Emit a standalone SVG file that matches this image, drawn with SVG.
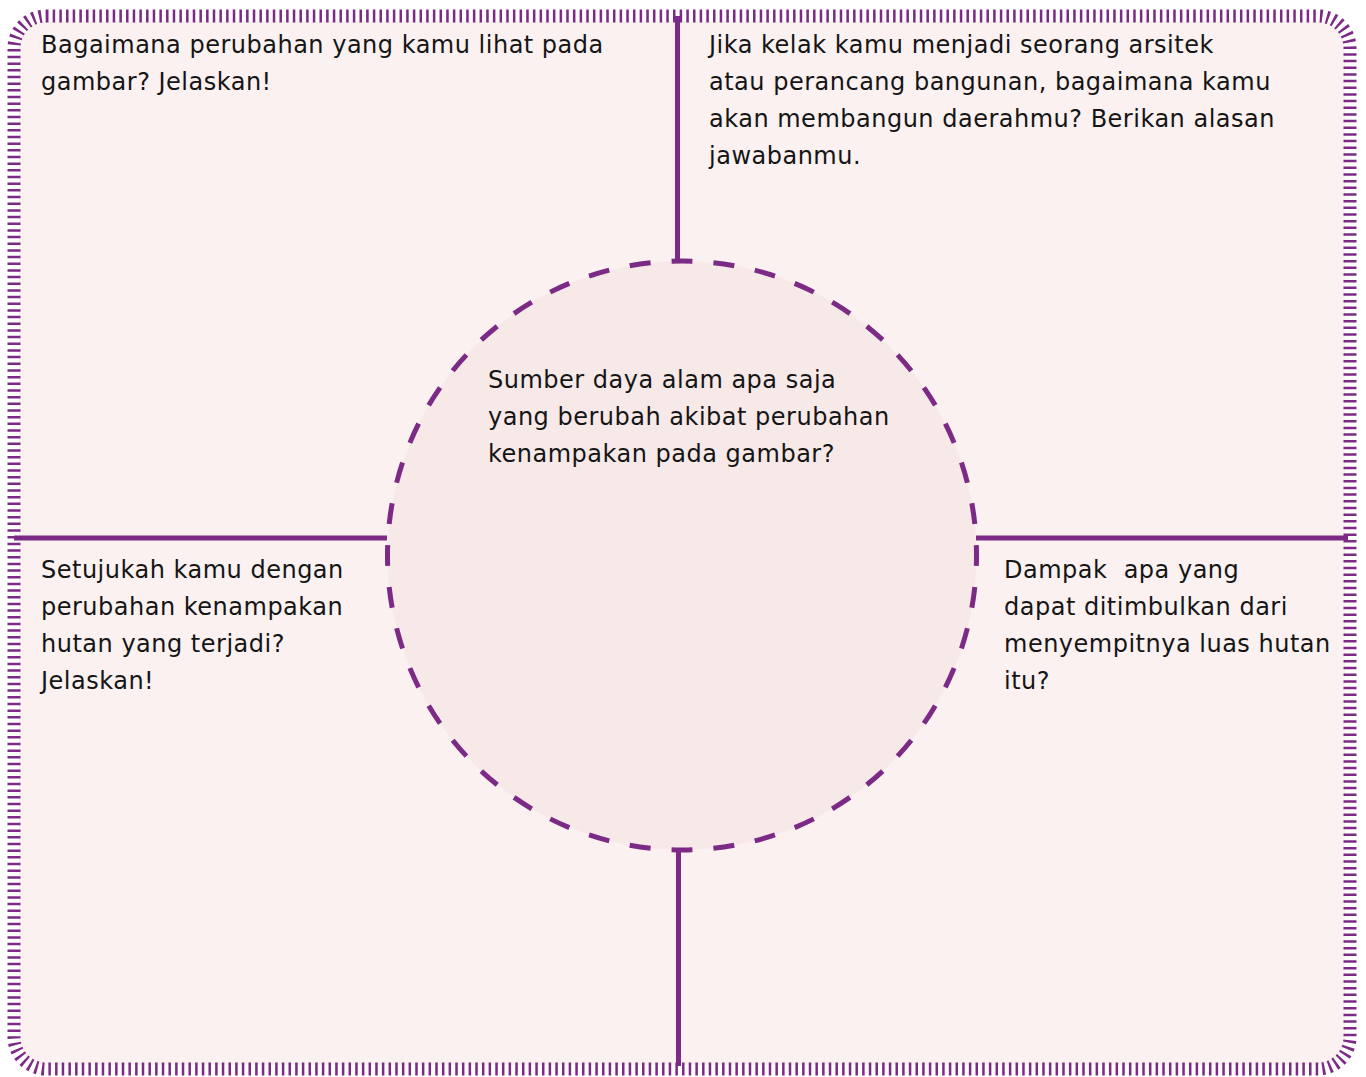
<svg xmlns="http://www.w3.org/2000/svg" width="1366" height="1077" viewBox="0 0 1366 1077">
<style>
.t{font-family:"DejaVu Sans","Liberation Sans",sans-serif;font-size:24px;letter-spacing:0.5px;fill:#151515}
.ln{stroke:#7b2a85;stroke-width:5;fill:none}
</style>
<rect width="1366" height="1077" fill="#ffffff"/>
<g id="frame">
<rect x="19" y="21" width="1326" height="1044" rx="27" fill="#faf1f0"/>
<rect x="14" y="16" width="1336" height="1053" rx="32" fill="none" stroke="#7b2a85" stroke-width="13" stroke-dasharray="2.5 4.17"/>
</g>
<g id="connectors">
<line class="ln" x1="677.5" y1="16" x2="677.5" y2="261"/>
<line class="ln" x1="678.5" y1="850" x2="678.5" y2="1066"/>
<line class="ln" x1="14" y1="538" x2="387" y2="538"/>
<line class="ln" x1="976" y1="538" x2="1348" y2="538"/>
</g>
<g id="center">
<circle cx="682" cy="555.5" r="294.5" fill="#f8e9e9" stroke="#7b2a85" stroke-width="5" pathLength="44" stroke-dasharray="0.5 0.5" stroke-dashoffset="0.25"/>
<text class="t"><tspan x="488" y="388">Sumber daya alam apa saja</tspan><tspan x="488" y="425">yang berubah akibat perubahan</tspan><tspan x="488" y="462">kenampakan pada gambar?</tspan></text>
</g>
<g id="top-left">
<text class="t"><tspan x="41" y="53">Bagaimana perubahan yang kamu lihat pada</tspan><tspan x="41" y="90">gambar? Jelaskan!</tspan></text>
</g>
<g id="top-right">
<text class="t"><tspan x="709" y="53">Jika kelak kamu menjadi seorang arsitek</tspan><tspan x="709" y="90">atau perancang bangunan, bagaimana kamu</tspan><tspan x="709" y="127">akan membangun daerahmu? Berikan alasan</tspan><tspan x="709" y="164">jawabanmu.</tspan></text>
</g>
<g id="bottom-left">
<text class="t"><tspan x="41" y="578">Setujukah kamu dengan</tspan><tspan x="41" y="615">perubahan kenampakan</tspan><tspan x="41" y="652">hutan yang terjadi?</tspan><tspan x="41" y="689">Jelaskan!</tspan></text>
</g>
<g id="bottom-right">
<text class="t" xml:space="preserve"><tspan x="1004" y="578">Dampak  apa yang</tspan><tspan x="1004" y="615">dapat ditimbulkan dari</tspan><tspan x="1004" y="652">menyempitnya luas hutan</tspan><tspan x="1004" y="689">itu?</tspan></text>
</g>
</svg>
